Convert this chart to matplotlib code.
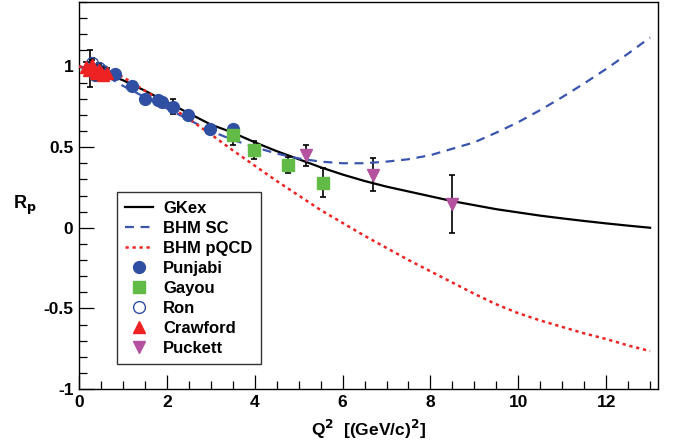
import numpy as np
from matplotlib import pyplot as plt
from matplotlib.ticker import MultipleLocator

# curves (Q2 every 0.5)
q2_curve = [0.0, 0.5, 1.0, 1.5, 2.0, 2.5, 3.0, 3.5, 4.0, 4.5, 5.0, 5.5, 6.0, 6.5,
            7.0, 7.5, 8.0, 8.5, 9.0, 9.5, 10.0, 10.5, 11.0, 11.5, 12.0, 12.5, 13.0]
gkex = [1.0, 0.965, 0.915, 0.85, 0.78, 0.71, 0.64, 0.59, 0.53, 0.475, 0.425, 0.375, 0.33, 0.29,
        0.255, 0.225, 0.195, 0.165, 0.14, 0.115, 0.095, 0.075, 0.058, 0.042, 0.027, 0.013, 0.0]
bhm_sc = [1.0, 0.96, 0.88, 0.81, 0.74, 0.67, 0.60, 0.545, 0.50, 0.46, 0.43, 0.41, 0.40, 0.40,
          0.41, 0.425, 0.45, 0.49, 0.53, 0.59, 0.655, 0.73, 0.81, 0.895, 0.985, 1.08, 1.18]
bhm_pqcd = [1.0, 0.99, 0.935, 0.85, 0.765, 0.675, 0.58, 0.48, 0.385, 0.29, 0.20, 0.11, 0.03, -0.05,
            -0.125, -0.20, -0.27, -0.34, -0.41, -0.475, -0.53, -0.575, -0.615, -0.655, -0.69, -0.73, -0.765]

# data sets
punjabi_q2 = [0.82, 1.2, 1.5, 1.8, 1.88, 2.14, 2.48, 2.98, 3.5]
punjabi_r = [0.955, 0.88, 0.80, 0.79, 0.78, 0.75, 0.70, 0.614, 0.61]
punjabi_err = [0.02, 0.02, 0.02, 0.02, 0.02, 0.047, 0.02, 0.02, 0.03]

gayou_q2 = [3.5, 3.98, 4.76, 5.55]
gayou_r = [0.573, 0.484, 0.387, 0.28]
gayou_err = [0.06, 0.055, 0.05, 0.09]

ron_q2 = [0.25, 0.3, 0.36, 0.45, 0.55]
ron_r = [0.985, 1.02, 0.945, 0.99, 0.97]
ron_err = [0.115, 0.03, 0.03, 0.03, 0.03]

crawford_q2 = [0.15, 0.22, 0.3, 0.38, 0.46, 0.55, 0.64]
crawford_r = [1.0, 0.98, 1.01, 0.96, 0.98, 0.95, 0.96]
crawford_err = [0.03, 0.03, 0.03, 0.03, 0.03, 0.03, 0.03]

puckett_q2 = [5.17, 6.7, 8.49]
puckett_r = [0.45, 0.33, 0.149]
puckett_err = [0.065, 0.105, 0.18]

plt.rcParams['font.family'] = ['Liberation Sans', 'DejaVu Sans']
plt.rcParams['font.weight'] = 'bold'
plt.rcParams['axes.unicode_minus'] = False

fig = plt.figure(figsize=(6.8, 4.42), dpi=100)
ax = fig.add_axes([79/680, 53/442, 579/680, 387/442])

blue = '#2f4fa2'
green = '#62bb46'
magenta = '#b4529f'
red = '#ee2222'

ax.plot(q2_curve, gkex, color='black', lw=1.6, label='GKex', zorder=3)
ax.plot(q2_curve, bhm_sc, color='#3a55b0', lw=1.6, ls=(0, (4, 3)), label='BHM SC', zorder=3)
ax.plot(q2_curve, bhm_pqcd, color=red, lw=1.8, ls=(0, (1.3, 1.5)), label='BHM pQCD', zorder=3)

eb = dict(fmt='none', ecolor='black', elinewidth=1.2, capsize=2.5, capthick=1.2, zorder=2)
ax.errorbar(punjabi_q2, punjabi_r, yerr=punjabi_err, **eb)
ax.errorbar(gayou_q2, gayou_r, yerr=gayou_err, **eb)
ax.errorbar(ron_q2, ron_r, yerr=ron_err, **eb)
ax.errorbar(crawford_q2, crawford_r, yerr=crawford_err, **eb)
ax.errorbar(puckett_q2, puckett_r, yerr=puckett_err, **eb)

ax.plot(punjabi_q2, punjabi_r, 'o', color=blue, ms=8.5, mec=blue, label='Punjabi', zorder=4)
ax.plot(gayou_q2, gayou_r, 's', color=green, ms=8.5, mec=green, label='Gayou', zorder=4)
ax.plot(ron_q2, ron_r, 'o', mfc='none', mec=blue, mew=1.0, ms=8.5, label='Ron', zorder=4)
ax.plot(crawford_q2, crawford_r, '^', color=red, ms=9, mec=red, label='Crawford', zorder=5)
ax.plot(puckett_q2, puckett_r, 'v', color=magenta, ms=9, mec=magenta, label='Puckett', zorder=4)

ax.set_xlim(0, 13.18)
ax.set_ylim(-1, 1.4)
ax.xaxis.set_major_locator(MultipleLocator(2))
ax.xaxis.set_minor_locator(MultipleLocator(0.5))
ax.yaxis.set_major_locator(MultipleLocator(0.5))
ax.yaxis.set_minor_locator(MultipleLocator(0.1))
ax.set_yticks([-1, -0.5, 0, 0.5, 1])
ax.set_yticklabels(['-1', '-0.5', '0', '0.5', '1'])
ax.tick_params(which='both', direction='in', top=False, right=False, labelsize=12.5, width=0.9)
ax.tick_params(which='major', length=11, pad=4)
ax.tick_params(which='minor', length=5.5)
ax.tick_params(axis='x', which='major', length=10)
for s in ax.spines.values():
    s.set_linewidth(1.0)

ax.set_xlabel(r'Q$^{\mathbf{2}}$  [(GeV/c)$^{\mathbf{2}}$]', fontsize=12.5, fontweight='bold', labelpad=6)
ax.text(-0.093, 0.475, r'R$_{\mathbf{p}}$', transform=ax.transAxes, fontsize=13,
        fontweight='bold', ha='center', va='center')

leg = ax.legend(loc='lower left', bbox_to_anchor=(0.065, 0.065), borderaxespad=0,
                fontsize=12, frameon=True, fancybox=False, edgecolor='black',
                handlelength=1.7, handletextpad=0.6, labelspacing=0.3, borderpad=0.5)
leg.get_frame().set_linewidth(1.0)
for t in leg.get_texts():
    t.set_fontweight('bold')

fig.savefig('out.png', dpi=100)
